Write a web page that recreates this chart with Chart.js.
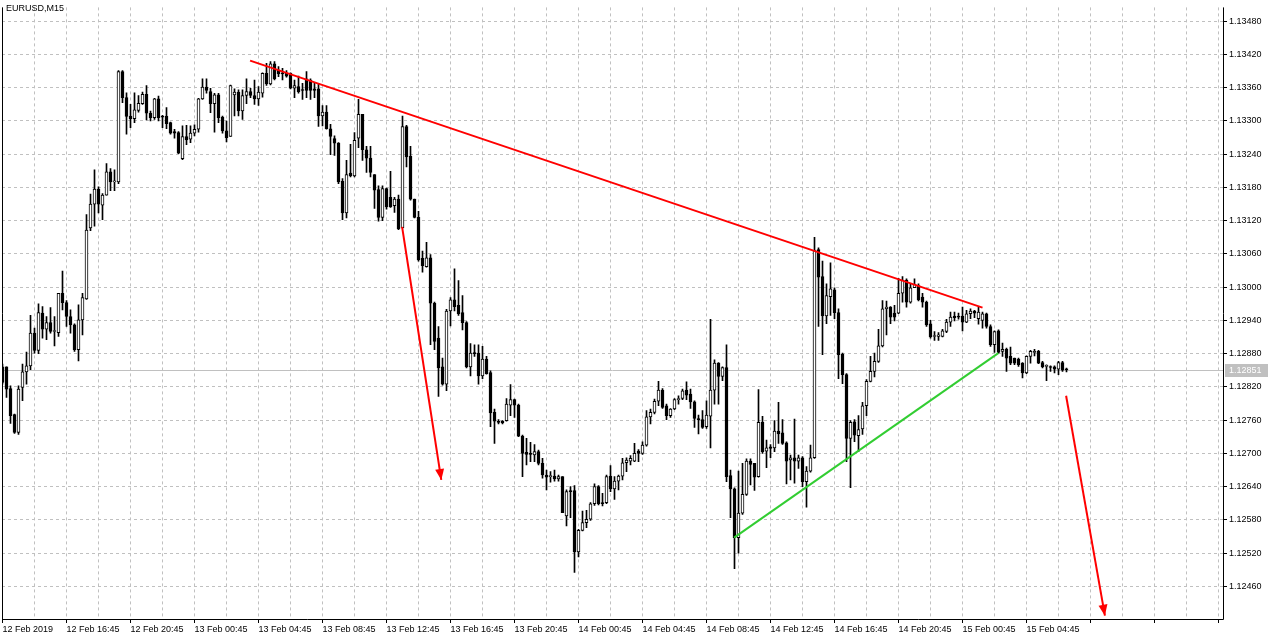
<!DOCTYPE html>
<html>
<head>
<meta charset="utf-8">
<title>EURUSD,M15</title>
<script src="https://cdn.jsdelivr.net/npm/chart.js@4.4.1/dist/chart.umd.min.js"></script>
<style>
  html, body { margin: 0; padding: 0; background: #fff; }
  #wrap { width: 1276px; height: 640px; }
</style>
</head>
<body>
<div id="wrap"><canvas id="chart" width="1276" height="640"></canvas></div>
<script>
// EURUSD M15 candles, one per 15 minutes starting 12 Feb 2019 12:45
const symbolTitle = 'EURUSD,M15';

const timeLabels = ['12 Feb 2019', '12 Feb 16:45', '12 Feb 20:45', '13 Feb 00:45', '13 Feb 04:45',
  '13 Feb 08:45', '13 Feb 12:45', '13 Feb 16:45', '13 Feb 20:45', '14 Feb 00:45', '14 Feb 04:45',
  '14 Feb 08:45', '14 Feb 12:45', '14 Feb 16:45', '14 Feb 20:45', '15 Feb 00:45', '15 Feb 04:45'];

const yTicks = [1.12460, 1.12520, 1.12580, 1.12640, 1.12700, 1.12760, 1.12820, 1.12880, 1.12940,
  1.13000, 1.13060, 1.13120, 1.13180, 1.13240, 1.13300, 1.13360, 1.13420, 1.13480];

const opens = [
  1.12856,1.12856,1.12817,1.12770,1.12738,1.12819,1.12847,1.12858,1.12917,1.12886,
  1.12953,1.12924,1.12936,1.12920,1.12918,1.12989,1.12972,1.12947,1.12932,1.12887,
  1.12941,1.12979,1.13107,1.13150,1.13177,1.13148,1.13166,1.13208,1.13190,1.13190,
  1.13389,1.13342,1.13309,1.13304,1.13319,1.13331,1.13348,1.13314,1.13306,1.13340,
  1.13309,1.13309,1.13297,1.13281,1.13279,1.13232,1.13272,1.13267,1.13278,1.13285,
  1.13340,1.13361,1.13353,1.13331,1.13347,1.13307,1.13282,1.13272,1.13347,1.13352,
  1.13318,1.13346,1.13353,1.13346,1.13340,1.13350,1.13386,1.13367,1.13403,1.13392,
  1.13387,1.13386,1.13386,1.13359,1.13362,1.13356,1.13376,1.13374,1.13358,1.13358,
  1.13309,1.13316,1.13286,1.13268,1.13260,1.13191,1.13134,1.13206,1.13201,1.13269,
  1.13312,1.13248,1.13233,1.13203,1.13176,1.13126,1.13178,1.13162,1.13147,1.13159,
  1.13107,1.13290,1.13236,1.13159,1.13126,1.13052,1.13037,1.13053,1.12971,1.12908,
  1.12856,1.12825,1.12957,1.12977,1.12967,1.12954,1.12936,1.12856,1.12881,1.12881,
  1.12840,1.12870,1.12846,1.12774,1.12758,1.12758,1.12759,1.12787,1.12797,1.12787,
  1.12731,1.12702,1.12700,1.12697,1.12703,1.12682,1.12661,1.12658,1.12659,1.12654,
  1.12658,1.12587,1.12633,1.12633,1.12522,1.12561,1.12575,1.12581,1.12609,1.12640,
  1.12611,1.12611,1.12659,1.12636,1.12650,1.12659,1.12683,1.12686,1.12686,1.12704,
  1.12700,1.12715,1.12766,1.12774,1.12794,1.12814,1.12786,1.12768,1.12780,1.12797,
  1.12799,1.12814,1.12807,1.12793,1.12763,1.12761,1.12748,1.12767,1.12814,1.12863,
  1.12839,1.12855,1.12660,1.12636,1.12548,1.12592,1.12626,1.12686,1.12682,1.12658,
  1.12756,1.12704,1.12712,1.12710,1.12740,1.12737,1.12719,1.12688,1.12692,1.12686,
  1.12692,1.12649,1.12668,1.12692,1.13068,1.13019,1.12948,1.12983,1.12995,1.12954,
  1.12879,1.12842,1.12727,1.12757,1.12732,1.12744,1.12786,1.12830,1.12848,1.12866,
  1.12894,1.12961,1.12964,1.12953,1.12953,1.12989,1.13013,1.12973,1.12999,1.13003,
  1.12982,1.12973,1.12934,1.12911,1.12911,1.12911,1.12920,1.12937,1.12948,1.12948,
  1.12948,1.12937,1.12952,1.12957,1.12943,1.12940,1.12952,1.12929,1.12896,1.12921,
  1.12884,1.12888,1.12875,1.12872,1.12870,1.12863,1.12845,1.12875,1.12882,1.12884,
  1.12864,1.12857,1.12856,1.12856,1.12852,1.12864,1.12852
];

const highs = [
  1.12861,1.12856,1.12822,1.12771,1.12822,1.12861,1.12883,1.12949,1.12926,1.12970,
  1.12965,1.12947,1.12963,1.12947,1.12989,1.13029,1.12976,1.12959,1.12934,1.12968,
  1.12989,1.13131,1.13168,1.13212,1.13181,1.13169,1.13223,1.13214,1.13212,1.13391,
  1.13391,1.13351,1.13330,1.13351,1.13346,1.13352,1.13364,1.13318,1.13341,1.13345,
  1.13310,1.13324,1.13298,1.13285,1.13281,1.13291,1.13292,1.13291,1.13293,1.13341,
  1.13376,1.13376,1.13359,1.13350,1.13350,1.13309,1.13300,1.13365,1.13358,1.13356,
  1.13356,1.13376,1.13359,1.13374,1.13362,1.13387,1.13404,1.13407,1.13407,1.13398,
  1.13395,1.13391,1.13387,1.13374,1.13381,1.13368,1.13389,1.13376,1.13368,1.13368,
  1.13328,1.13328,1.13294,1.13273,1.13261,1.13196,1.13229,1.13258,1.13279,1.13339,
  1.13312,1.13254,1.13254,1.13203,1.13183,1.13183,1.13179,1.13209,1.13162,1.13166,
  1.13309,1.13292,1.13254,1.13159,1.13137,1.13065,1.13081,1.13059,1.12973,1.12929,
  1.12872,1.12960,1.12981,1.13033,1.13012,1.12985,1.12938,1.12898,1.12896,1.12896,
  1.12893,1.12875,1.12849,1.12780,1.12761,1.12759,1.12799,1.12824,1.12798,1.12789,
  1.12733,1.12727,1.12720,1.12716,1.12706,1.12691,1.12670,1.12667,1.12670,1.12661,
  1.12658,1.12634,1.12640,1.12642,1.12563,1.12596,1.12597,1.12611,1.12645,1.12642,
  1.12628,1.12661,1.12678,1.12658,1.12661,1.12691,1.12692,1.12696,1.12718,1.12707,
  1.12721,1.12777,1.12780,1.12798,1.12830,1.12817,1.12789,1.12781,1.12799,1.12804,
  1.12816,1.12829,1.12816,1.12795,1.12769,1.12777,1.12795,1.12942,1.12869,1.12864,
  1.12856,1.12896,1.12670,1.12638,1.12668,1.12682,1.12690,1.12690,1.12682,1.12815,
  1.12767,1.12724,1.12716,1.12759,1.12792,1.12761,1.12721,1.12697,1.12762,1.12697,
  1.12694,1.12676,1.12715,1.13090,1.13071,1.13047,1.13006,1.13044,1.12999,1.12961,
  1.12881,1.12844,1.12759,1.12761,1.12768,1.12792,1.12833,1.12875,1.12881,1.12924,
  1.12976,1.12975,1.12965,1.12967,1.13016,1.13019,1.13015,1.13006,1.13015,1.13006,
  1.12989,1.12975,1.12940,1.12920,1.12918,1.12924,1.12942,1.12955,1.12955,1.12953,
  1.12964,1.12958,1.12961,1.12958,1.12964,1.12955,1.12953,1.12932,1.12921,1.12923,
  1.12899,1.12890,1.12892,1.12872,1.12872,1.12864,1.12876,1.12886,1.12888,1.12886,
  1.12866,1.12860,1.12858,1.12858,1.12866,1.12866,1.12854
];

const lows = [
  1.12825,1.12801,1.12754,1.12736,1.12734,1.12795,1.12825,1.12851,1.12881,1.12880,
  1.12908,1.12905,1.12917,1.12894,1.12911,1.12959,1.12929,1.12917,1.12884,1.12867,
  1.12914,1.12978,1.13102,1.13110,1.13134,1.13122,1.13166,1.13174,1.13174,1.13187,
  1.13333,1.13276,1.13288,1.13297,1.13316,1.13330,1.13302,1.13300,1.13303,1.13300,
  1.13288,1.13286,1.13276,1.13269,1.13241,1.13230,1.13257,1.13261,1.13273,1.13280,
  1.13339,1.13350,1.13315,1.13280,1.13297,1.13278,1.13262,1.13272,1.13309,1.13309,
  1.13303,1.13331,1.13342,1.13330,1.13328,1.13343,1.13364,1.13365,1.13374,1.13380,
  1.13374,1.13379,1.13358,1.13342,1.13350,1.13339,1.13342,1.13339,1.13342,1.13290,
  1.13291,1.13285,1.13239,1.13238,1.13187,1.13122,1.13125,1.13199,1.13199,1.13252,
  1.13229,1.13207,1.13199,1.13142,1.13119,1.13120,1.13141,1.13144,1.13135,1.13104,
  1.13107,1.13217,1.13157,1.13125,1.13047,1.13027,1.13036,1.12896,1.12887,1.12803,
  1.12823,1.12813,1.12930,1.12957,1.12949,1.12923,1.12854,1.12840,1.12875,1.12825,
  1.12835,1.12843,1.12748,1.12718,1.12753,1.12753,1.12758,1.12768,1.12765,1.12730,
  1.12658,1.12679,1.12685,1.12685,1.12679,1.12655,1.12634,1.12648,1.12650,1.12650,
  1.12593,1.12569,1.12584,1.12485,1.12513,1.12560,1.12566,1.12579,1.12606,1.12607,
  1.12605,1.12609,1.12631,1.12617,1.12634,1.12652,1.12667,1.12679,1.12685,1.12685,
  1.12698,1.12713,1.12753,1.12771,1.12786,1.12781,1.12761,1.12765,1.12779,1.12789,
  1.12797,1.12797,1.12781,1.12747,1.12735,1.12745,1.12745,1.12710,1.12789,1.12789,
  1.12831,1.12649,1.12584,1.12492,1.12520,1.12590,1.12624,1.12643,1.12633,1.12657,
  1.12700,1.12674,1.12692,1.12703,1.12718,1.12716,1.12645,1.12652,1.12646,1.12673,
  1.12640,1.12603,1.12666,1.12691,1.12929,1.12878,1.12934,1.12949,1.12943,1.12835,
  1.12826,1.12685,1.12638,1.12721,1.12703,1.12734,1.12768,1.12829,1.12838,1.12864,
  1.12892,1.12914,1.12934,1.12939,1.12952,1.12973,1.12964,1.12971,1.12999,1.12975,
  1.12964,1.12929,1.12908,1.12904,1.12904,1.12910,1.12918,1.12929,1.12939,1.12942,
  1.12921,1.12936,1.12943,1.12945,1.12933,1.12926,1.12926,1.12893,1.12882,1.12881,
  1.12875,1.12848,1.12860,1.12860,1.12857,1.12836,1.12844,1.12863,1.12876,1.12862,
  1.12854,1.12831,1.12848,1.12845,1.12842,1.12848,1.12847
];

const closes = [
  1.12828,1.12816,1.12768,1.12738,1.12816,1.12847,1.12858,1.12917,1.12886,1.12954,
  1.12924,1.12936,1.12920,1.12920,1.12989,1.12972,1.12947,1.12932,1.12887,1.12941,
  1.12981,1.13103,1.13150,1.13177,1.13150,1.13166,1.13208,1.13190,1.13190,1.13389,
  1.13342,1.13308,1.13304,1.13320,1.13332,1.13348,1.13314,1.13306,1.13340,1.13306,
  1.13307,1.13295,1.13278,1.13278,1.13242,1.13272,1.13266,1.13278,1.13285,1.13340,
  1.13361,1.13355,1.13331,1.13347,1.13306,1.13282,1.13270,1.13364,1.13352,1.13318,
  1.13346,1.13353,1.13346,1.13340,1.13352,1.13386,1.13367,1.13403,1.13376,1.13385,
  1.13385,1.13381,1.13359,1.13364,1.13353,1.13355,1.13355,1.13355,1.13355,1.13309,
  1.13316,1.13286,1.13272,1.13260,1.13190,1.13134,1.13203,1.13201,1.13265,1.13312,
  1.13248,1.13233,1.13207,1.13175,1.13126,1.13178,1.13145,1.13145,1.13159,1.13105,
  1.13290,1.13235,1.13159,1.13126,1.13049,1.13039,1.13053,1.12971,1.12902,1.12854,
  1.12825,1.12957,1.12977,1.12965,1.12952,1.12936,1.12856,1.12881,1.12880,1.12840,
  1.12870,1.12844,1.12773,1.12758,1.12756,1.12755,1.12789,1.12797,1.12787,1.12731,
  1.12700,1.12698,1.12698,1.12703,1.12682,1.12661,1.12657,1.12658,1.12654,1.12658,
  1.12593,1.12631,1.12631,1.12522,1.12561,1.12575,1.12581,1.12609,1.12640,1.12609,
  1.12609,1.12658,1.12636,1.12650,1.12659,1.12683,1.12688,1.12691,1.12700,1.12700,
  1.12715,1.12766,1.12774,1.12794,1.12814,1.12783,1.12768,1.12780,1.12797,1.12799,
  1.12813,1.12805,1.12793,1.12763,1.12761,1.12747,1.12769,1.12814,1.12863,1.12839,
  1.12855,1.12658,1.12636,1.12548,1.12592,1.12626,1.12686,1.12680,1.12657,1.12756,
  1.12703,1.12710,1.12709,1.12740,1.12735,1.12718,1.12686,1.12692,1.12686,1.12692,
  1.12649,1.12668,1.12692,1.13066,1.13018,1.12948,1.12985,1.12997,1.12954,1.12878,
  1.12842,1.12727,1.12756,1.12733,1.12743,1.12786,1.12830,1.12848,1.12866,1.12894,
  1.12961,1.12964,1.12946,1.12946,1.12989,1.13013,1.12973,1.12999,1.13005,1.12977,
  1.12973,1.12932,1.12910,1.12911,1.12914,1.12921,1.12937,1.12946,1.12945,1.12946,
  1.12937,1.12952,1.12957,1.12953,1.12955,1.12952,1.12929,1.12896,1.12920,1.12882,
  1.12888,1.12872,1.12863,1.12863,1.12860,1.12845,1.12875,1.12884,1.12884,1.12863,
  1.12856,1.12857,1.12855,1.12852,1.12864,1.12850,1.12851
];

// drawn objects: x = bar index, y = price
const trendRed = [{x: 61.9, y: 1.13409}, {x: 245.0, y: 1.12963}];
const trendGreen = [{x: 182.9, y: 1.12548}, {x: 248.95, y: 1.12881}];
const arrowFirst = [{x: 99.9, y: 1.13109}, {x: 109.7, y: 1.12652}];
const arrowSecond = [{x: 265.9, y: 1.12804}, {x: 275.6, y: 1.12407}];
const bidPrice = closes[closes.length - 1];

const yMin = 1.12401, yMax = 1.13505;
const gridStep = 8, labelStep = 16;

const gridBars = [];
for (let b = 0; b <= 304; b += gridStep) gridBars.push(b);

const idx = opens.map((o, i) => i);
const wickData = idx.map(i => ({x: i, y: [lows[i], highs[i]]}));
const bodyData = idx.map(i => ({x: i, y: [opens[i], closes[i]]}));
const bodyFill = idx.map(i => closes[i] >= opens[i] ? '#ffffff' : '#000000');

const FONT = 'Liberation Sans';
Chart.defaults.font.family = FONT;
Chart.defaults.font.size = 9;
Chart.defaults.color = '#000';

const mtPlugin = {
  id: 'mtDecor',
  beforeDatasetsDraw(chart) {
    // bid line under the candles
    const {ctx, chartArea: a, scales: {y}} = chart;
    const py = Math.round(y.getPixelForValue(bidPrice)) + 0.5;
    ctx.save();
    ctx.strokeStyle = '#c0c0c0';
    ctx.lineWidth = 1;
    ctx.beginPath();
    ctx.moveTo(a.left, py);
    ctx.lineTo(a.right, py);
    ctx.stroke();
    ctx.restore();
  },
  afterDatasetsDraw(chart) {
    const ctx = chart.ctx;
    chart.data.datasets.forEach((ds, i) => {
      if (!ds.arrowHead) return;
      const pts = chart.getDatasetMeta(i).data;
      const p0 = pts[pts.length - 2], p1 = pts[pts.length - 1];
      const ang = Math.atan2(p1.y - p0.y, p1.x - p0.x);
      const len = 11, half = 4.5;
      const bx = p1.x - len * Math.cos(ang), by = p1.y - len * Math.sin(ang);
      ctx.save();
      ctx.fillStyle = ds.borderColor;
      ctx.beginPath();
      ctx.moveTo(p1.x, p1.y);
      ctx.lineTo(bx + half * Math.sin(ang), by - half * Math.cos(ang));
      ctx.lineTo(bx - half * Math.sin(ang), by + half * Math.cos(ang));
      ctx.closePath();
      ctx.fill();
      ctx.restore();
    });
  },
  afterDraw(chart) {
    const {ctx, chartArea: a, scales: {y}} = chart;
    ctx.save();
    // frame
    ctx.strokeStyle = '#000';
    ctx.lineWidth = 1;
    ctx.beginPath();
    ctx.moveTo(a.left + 0.5, a.top);
    ctx.lineTo(a.left + 0.5, a.bottom + 0.5);
    ctx.lineTo(a.right + 0.5, a.bottom + 0.5);
    ctx.lineTo(a.right + 0.5, a.top);
    ctx.stroke();
    // bid label
    const py = Math.round(y.getPixelForValue(bidPrice));
    ctx.fillStyle = '#c0c0c0';
    ctx.fillRect(a.right + 2, py - 6, 43, 13);
    ctx.fillStyle = '#fff';
    ctx.font = '9px ' + FONT;
    ctx.textBaseline = 'middle';
    ctx.fillText(bidPrice.toFixed(5), a.right + 6, py + 0.5);
    // title
    ctx.fillStyle = '#000';
    ctx.textBaseline = 'top';
    ctx.fillText(symbolTitle, 6, 4);
    ctx.restore();
  }
};

new Chart(document.getElementById('chart'), {
  type: 'bar',
  data: {
    datasets: [
      { type: 'line', data: trendRed, borderColor: '#ff0000', borderWidth: 2, pointRadius: 0, order: 0 },
      { type: 'line', data: trendGreen, borderColor: '#32cd32', borderWidth: 2, pointRadius: 0, order: 0 },
      { type: 'line', data: arrowFirst, borderColor: '#ff0000', borderWidth: 2, pointRadius: 0, order: 0, arrowHead: true },
      { type: 'line', data: arrowSecond, borderColor: '#ff0000', borderWidth: 2, pointRadius: 0, order: 0, arrowHead: true },
      { data: bodyData, backgroundColor: bodyFill, borderColor: '#000', borderWidth: 1, borderSkipped: false,
        barThickness: 3, minBarLength: 1, grouped: false, order: 1 },
      { data: wickData, backgroundColor: '#000', borderWidth: 0, barThickness: 1, grouped: false, order: 2 }
    ]
  },
  options: {
    responsive: false,
    animation: false,
    devicePixelRatio: 1,
    layout: { padding: { left: 2, right: 0, top: 0, bottom: 0 } },
    plugins: { legend: { display: false }, tooltip: { enabled: false } },
    scales: {
      x: {
        type: 'linear',
        min: -0.125,
        max: 305.125,
        offset: false,
        afterBuildTicks: s => { s.ticks = gridBars.map(v => ({value: v})); },
        afterFit: s => { s.height = 21; },
        grid: {
          color: '#c0c0c0', offset: false, tickLength: 4, tickBorderDash: [],
          tickColor: c => (c.tick && c.tick.value % labelStep === 0) ? '#000' : 'rgba(0,0,0,0)'
        },
        border: { display: false, dash: [3, 3] },
        ticks: {
          autoSkip: false, maxRotation: 0, minRotation: 0, align: 'start', padding: 1, color: '#000',
          callback: v => (v % labelStep === 0 && timeLabels[v / labelStep]) ? timeLabels[v / labelStep] : ''
        }
      },
      y: {
        position: 'right',
        min: yMin,
        max: yMax,
        afterBuildTicks: s => { s.ticks = yTicks.map(v => ({value: v})); },
        afterFit: s => { s.width = 53; },
        grid: { color: '#c0c0c0', tickLength: 4, tickColor: '#000', tickBorderDash: [] },
        border: { display: false, dash: [3, 3] },
        ticks: { padding: 2, color: '#000', callback: v => v.toFixed(5) }
      }
    }
  },
  plugins: [mtPlugin]
});
</script>
</body>
</html>
